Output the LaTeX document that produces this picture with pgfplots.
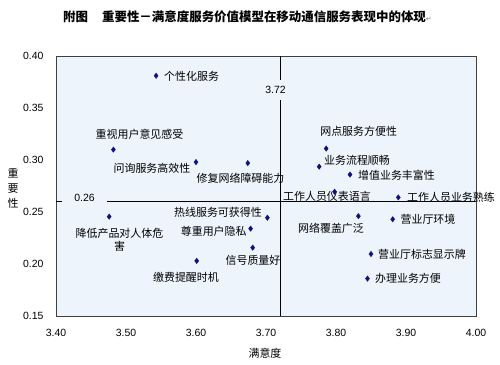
\documentclass[border=0pt]{standalone}
\usepackage{pgfplots}
\pgfplotsset{compat=1.18}
\usepackage{fontspec}
\setmainfont{Liberation Sans}
\newfontfamily\cjk{Noto Sans CJK SC}
\newfontfamily\dejavu{DejaVu Sans}
\definecolor{bgblue}{HTML}{EDF4FC}
\definecolor{pt}{HTML}{10107F}
\definecolor{frame}{HTML}{404040}
\begin{document}
\begin{tikzpicture}
\useasboundingbox (-56bp,-49bp) rectangle (444bp,316bp);
\begin{axis}[
  at={(0,0)}, anchor=south west,
  scale only axis, width=420bp, height=260bp,
  xmin=3.4, xmax=4.0, ymin=0.15, ymax=0.40,
  xtick={3.4,3.5,3.6,3.7,3.8,3.9,4.0},
  ytick={0.15,0.20,0.25,0.30,0.35,0.40},
  major tick length=0pt,
  axis line style={frame, line width=0.8pt},
  axis background/.style={fill=bgblue},
  /pgf/number format/assume math mode=true,
  xticklabel style={/pgf/number format/.cd, fixed, fixed zerofill, precision=2, /tikz/.cd, font=\fontsize{10.5}{12}\selectfont, anchor=center, yshift=-17bp},
  yticklabel style={/pgf/number format/.cd, fixed, fixed zerofill, precision=2, /tikz/.cd, font=\fontsize{10.5}{12}\selectfont, anchor=east, xshift=-9bp},
  scaled ticks=false,
  clip=false,
  axis on top=false,
]
% quadrant lines
\draw[black, line width=0.7pt] (axis cs:3.72,0.15) -- (axis cs:3.72,0.40);
\draw[black, line width=0.7pt] (axis cs:3.40,0.26) -- (axis cs:4.00,0.26);
\node[fill=bgblue, inner sep=0pt, minimum width=22bp, minimum height=20bp, font=\fontsize{10.5}{12}\selectfont] at (axis cs:3.7136,0.3673) {3.72};
\node[fill=bgblue, inner sep=0pt, minimum width=45bp, minimum height=8bp, font=\fontsize{10.5}{12}\selectfont] at (axis cs:3.4407,0.2635) {0.26};

\addplot[only marks, mark=diamond*, mark size=2.7bp, color=pt] coordinates {
(3.543,0.381)
(3.482,0.310)
(3.600,0.298)
(3.674,0.297)
(3.786,0.311)
(3.776,0.2936)
(3.820,0.286)
(3.798,0.2695)
(3.889,0.264)
(3.881,0.243)
(3.832,0.246)
(3.850,0.2096)
(3.845,0.186)
(3.702,0.2445)
(3.678,0.234)
(3.681,0.2157)
(3.601,0.203)
(3.476,0.2455)
};

\begin{scope}[every node/.style={font=\cjk\fontsize{11}{13}\selectfont, inner sep=0pt}]
\node[anchor=west] at (axis cs:3.5543,0.3808) {个性化服务};
\node at (axis cs:3.5193,0.325) {重视用户意见感受};
\node at (axis cs:3.5371,0.2923) {问询服务高效性};
\node at (axis cs:3.6636,0.2827) {修复网络障碍能力};
\node at (axis cs:3.8324,0.3279) {网点服务方便性};
\node at (axis cs:3.830,0.300) {业务流程顺畅};
\node at (axis cs:3.8864,0.2856) {增值业务丰富性};
\node at (axis cs:3.7871,0.2654) {工作人员仪表语言};
\node at (axis cs:3.9643,0.2644) {工作人员业务熟练};
\node at (axis cs:3.9314,0.2433) {营业厅环境};
\node at (axis cs:3.7929,0.2346) {网络覆盖广泛};
\node at (axis cs:3.9229,0.2096) {营业厅标志显示牌};
\node at (axis cs:3.9029,0.1865) {办理业务方便};
\node at (axis cs:3.6314,0.2500) {热线服务可获得性};
\node at (axis cs:3.6253,0.2317) {尊重用户隐私};
\node at (axis cs:3.6814,0.2038) {信号质量好};
\node at (axis cs:3.5857,0.1875) {缴费提醒时机};
\node[align=center] at (axis cs:3.4907,0.2231) {降低产品对人体危\\害};
\end{scope}
\end{axis}
% title and axis titles
\node[font=\cjk\bfseries\fontsize{12.5}{14}\selectfont, inner sep=0pt] at (191.5bp,299bp) {附图\hspace{14bp}重要性－满意度服务价值模型在移动通信服务表现中的体现{\dejavu\mdseries\fontsize{7}{8}\selectfont\color{gray}↵}};
\node[font=\cjk\fontsize{11}{13}\selectfont, inner sep=0pt] at (209bp,-37bp) {满意度};
\node[font=\cjk\fontsize{11}{15}\selectfont, inner sep=0pt, align=center] at (-43bp,128bp) {重\\要\\性};
\end{tikzpicture}
\end{document}
